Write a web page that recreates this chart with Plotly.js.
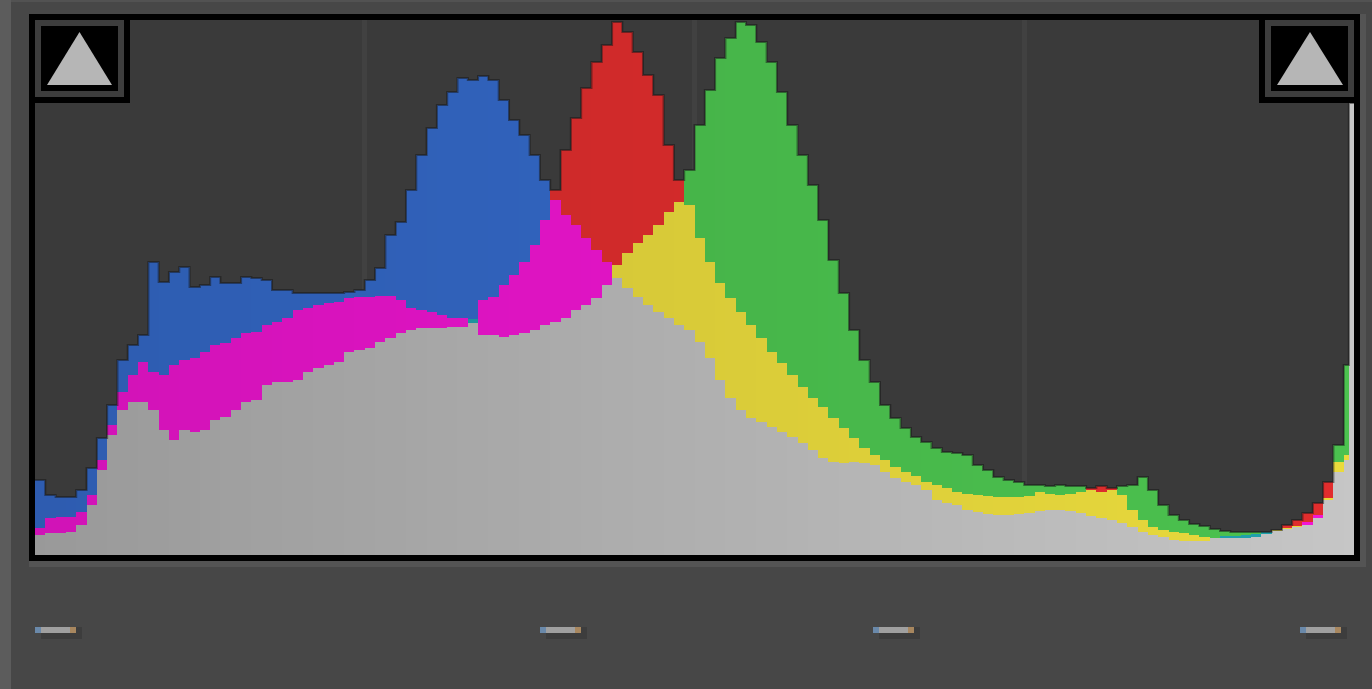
<!DOCTYPE html>
<html><head><meta charset="utf-8">
<script src="https://cdn.plot.ly/plotly-3.0.1.min.js"></script>
<style>html,body{margin:0;padding:0;background:#474747;overflow:hidden}#chart{width:1372px;height:689px}</style>
</head><body><div id="chart"></div>
<script>
// Histogram bin start levels (0-255 tonal scale)
const levels = [0,2,4,6,8,10,12,14,16,18,20,22,24,26,28,30,32,34,36,38,40,42,44,46,48,50,52,54,56,58,60,62,64,66,68,70,72,74,76,78,80,82,84,86,88,90,92,94,96,98,100,102,104,106,108,110,112,114,116,118,120,122,124,126,128,130,132,134,136,138,140,142,144,146,148,150,152,154,156,158,160,162,164,166,168,170,172,174,176,178,180,182,184,186,188,190,192,194,196,198,200,202,204,206,208,210,212,214,216,218,220,222,224,226,228,230,232,234,236,238,240,242,244,246,248,250,252,254,255];

const blue = [75,60,58,58,65,87,117,150,195,210,
220,293,273,283,288,268,270,278,272,272,
278,277,275,265,265,262,262,262,262,262,
263,265,275,287,320,333,365,400,427,450,
463,477,475,479,475,455,435,420,400,375,
355,340,330,317,305,293,277,267,258,250,
243,237,230,225,213,197,175,157,145,137,
133,128,123,118,112,105,97,93,92,93,
92,90,83,77,73,70,65,55,52,50,
45,43,41,40,40,41,42,44,45,45,
44,42,39,37,35,32,28,23,20,18,
15,14,14,14,17,19,19,20,21,23,
24,26,28,33,40,55,83,
95,452];

const red = [27,37,38,38,43,60,95,130,163,180,
193,183,180,190,195,197,203,210,212,217,
222,223,230,233,237,245,247,250,252,253,
257,258,258,259,259,255,247,245,243,240,
237,237,232,255,258,270,280,293,310,335,
365,405,437,467,493,510,533,523,503,480,
460,410,375,350,317,293,272,257,243,230,
217,203,192,180,168,157,148,137,127,117,
107,100,95,88,83,79,73,70,67,63,
61,60,59,58,58,58,59,63,61,60,
61,63,67,69,67,60,45,35,28,25,
23,22,20,18,17,17,17,17,18,21,
25,30,35,42,52,73,93,
100,452];

const green = [20,22,22,23,30,50,85,120,145,153,
153,145,125,115,125,123,125,135,138,145,
153,155,170,173,173,175,183,187,190,193,
203,205,207,213,217,222,225,227,227,227,
228,228,236,220,220,218,220,222,225,230,
233,237,245,250,257,270,290,302,312,320,
330,343,353,385,430,465,497,517,533,530,
513,493,463,430,400,370,335,295,262,225,
195,173,150,137,127,118,113,107,103,102,
100,90,85,78,75,73,70,70,69,70,
69,69,65,63,65,69,70,78,65,50,
40,35,31,29,26,24,23,23,23,23,
25,27,29,30,37,57,110,
190,452];

const gridLevels = [64,128,192];

// ---- styling helpers ----
const base = {
  r:[209,42,42], g:[70,180,73], b:[49,99,189],
  y:[216,202,56], m:[224,20,196], c:[30,150,160]
};
function rgb(c,f){return 'rgb('+c.map(v=>Math.max(0,Math.min(255,Math.round(v*f)))).join(',')+')';}

const n = levels.length;
const widths = levels.map((l,i)=> (i<n-1? levels[i+1]:256) - l);
const centers = levels.map((l,i)=> l + widths[i]/2);
const lowY=[], midY=[], topY=[], lowC=[], midC=[], topC=[], maxV=[];
for(let i=0;i<n;i++){
  const ch=[['r',red[i]],['g',green[i]],['b',blue[i]]].sort((a,b)=>a[1]-b[1]);
  const t=centers[i]/256;
  const f=0.93+0.15*t, gv=Math.round(153+45*t);
  lowY.push(ch[0][1]); midY.push(ch[1][1]-ch[0][1]); topY.push(ch[2][1]-ch[1][1]);
  maxV.push(ch[2][1]);
  lowC.push('rgb('+gv+','+gv+','+gv+')');
  const minCh=ch[0][0];
  const pair = minCh==='b'?'y':(minCh==='g'?'m':'c');
  midC.push(rgb(base[pair],f));
  topC.push(rgb(base[ch[2][0]],f));
}
function barTrace(y,c){return {type:'bar',x:centers,y:y,width:widths,marker:{color:c,line:{width:0}},hoverinfo:'skip'};}
const traces=[barTrace(lowY,lowC),barTrace(midY,midC),barTrace(topY,topC),
 {type:'scatter',mode:'lines',x:levels.concat([256]),y:maxV.concat([maxV[n-1]]),line:{shape:'hv',color:'rgba(22,22,22,0.5)',width:2},hoverinfo:'skip'}];

// ---- frame decorations (pixel -> paper) ----
const L=35,T=20,W=1319,H=535;
const px=x=>(x-L)/W, py=y=>(T+H-y)/H;
function rect(x0,y0,x1,y1,color,layer){return {type:'rect',xref:'paper',yref:'paper',x0:px(x0),x1:px(x1),y0:py(y1),y1:py(y0),fillcolor:color,line:{width:0},layer:layer||'below'};}
function tri(ax,ay,bx0,bx1,by,color){return {type:'path',xref:'paper',yref:'paper',path:'M'+px(ax)+','+py(ay)+' L'+px(bx1)+','+py(by)+' L'+px(bx0)+','+py(by)+' Z',fillcolor:color,line:{width:0},layer:'above'};}
const shapes=[
  rect(0,0,11,689,'#5c5c5c'),
  rect(11,0,1372,2,'#525252'),
  rect(29,14,1366,567,'#545454'),
  rect(29,14,1360,561,'#000000'),
  rect(35,20,1354,555,'#3a3a3a'),
  // clipping indicators
  rect(29,14,130,103,'#000000','above'),
  rect(35,20,124,97,'#3d3d3d','above'),
  rect(41,26,118,91,'#000000','above'),
  tri(79.5,32,47,112,85,'#b6b6b6'),
  rect(1259,14,1360,103,'#000000','above'),
  rect(1265,20,1354,97,'#3d3d3d','above'),
  rect(1271,26,1348,91,'#000000','above'),
  tri(1310,32,1277,1343,85,'#b6b6b6')
];
[35,540,873,1300].forEach(x=>{
  shapes.push(rect(x+6,633,x+47,639,'#3d3d3d'));
  shapes.push(rect(x+41,627,x+47,633,'#3d3d3d'));
  shapes.push(rect(x,627,x+6,633,'#6a89aa'));
  shapes.push(rect(x+6,627,x+35,633,'#a0a0a0'));
  shapes.push(rect(x+35,627,x+41,633,'#a8875f'));
});

const layout={
  width:1372,height:689,
  margin:{l:35,r:18,t:20,b:134,pad:0},
  paper_bgcolor:'#474747',plot_bgcolor:'rgba(0,0,0,0)',
  barmode:'stack',bargap:0,showlegend:false,hovermode:false,
  xaxis:{range:[0,256],tickvals:gridLevels,showticklabels:false,ticks:'',showgrid:true,gridcolor:'#414141',gridwidth:5,zeroline:false,showline:false,fixedrange:true},
  yaxis:{range:[0,535],showgrid:false,showticklabels:false,ticks:'',zeroline:false,showline:false,fixedrange:true},
  shapes:shapes
};
Plotly.newPlot('chart',traces,layout,{displayModeBar:false});
</script></body></html>
